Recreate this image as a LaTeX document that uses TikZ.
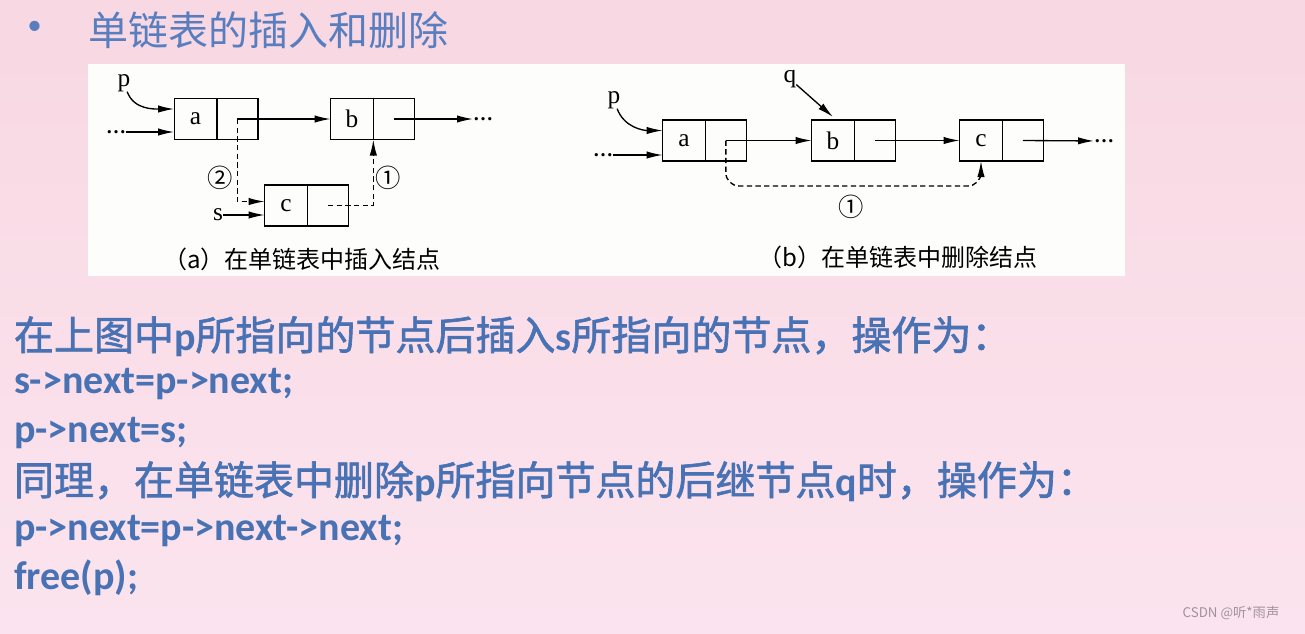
\documentclass[tikz,border=0pt]{standalone}
\usepackage{fontspec}
\setmainfont{Liberation Serif}
\newfontfamily\cjk{Noto Sans CJK SC}
\newfontfamily\cjkb[FakeBold=1.6]{Noto Sans CJK SC}
\newfontfamily\lat{Carlito}
\usetikzlibrary{arrows.meta,positioning,calc}
\definecolor{bodyblue}{RGB}{72,114,180}
\definecolor{titleblue}{RGB}{88,126,192}
\definecolor{bgtop}{RGB}{248,216,226}
\definecolor{bgbot}{RGB}{251,228,239}
\definecolor{panel}{RGB}{253,253,252}
\definecolor{markgray}{RGB}{160,146,154}
\newcommand{\lb}[1]{{\lat\bfseries #1}}

\begin{document}
\begin{tikzpicture}[x=0.75pt,y=-0.75pt,
  every node/.style={inner sep=0pt,outer sep=0pt},
  cell/.style={draw,line width=1pt,minimum width=32pt,minimum height=30.75pt,font=\fontsize{19}{19}\selectfont},
  ptrcell/.style={cell,minimum width=30.75pt},
  lbl/.style={font=\fontsize{19}{19}\selectfont},
  dots/.style={font=\bfseries\fontsize{15}{15}\selectfont},
  num/.style={font=\cjk\fontsize{19}{19}\selectfont},
  capt/.style={font=\cjk\fontsize{18}{18}\selectfont},
  body/.style={anchor=base west,text=bodyblue,font=\cjkb\fontsize{30}{30}\selectfont},
  arr/.style={-{Latex[length=12pt,width=5.5pt]},line width=1pt},
  darr/.style={arr,dash pattern=on 4pt off 2.5pt}
]
\useasboundingbox (0,0) rectangle (1305,633);
\shade[top color=bgtop,bottom color=bgbot] (0,0) rectangle (1305,633);
\fill[panel] (88,64) rectangle (1125,276);

% title
\node[text=titleblue,font=\fontsize{32}{32}\selectfont] (bul) at (35,31) {•};
\node[anchor=base west,text=titleblue,font=\cjk\fontsize{30}{30}\selectfont] (title) at (88,45) {单链表的插入和删除};

% (a) insertion
\node[cell] (a) at (195.5,119) {a};
\node[ptrcell,right=0pt of a] (ap) {};
\node[cell] (b) at (352,119) {b};
\node[ptrcell,right=0pt of b] (bp) {};
\node[cell] (c) at (286,205.5) {c};
\node[ptrcell,right=0pt of c] (cp) {};
\node[lbl] (pa) at (124,83) {p};
\node[dots] (da) at (116,132) {…};
\node[dots] (ea) at (483,119) {…};
\node[lbl] (sa) at (218,215) {s};
\draw[arr] (pa) to[out=-70,in=180] ($(a.west)+(0,-10)$);
\draw[arr] (da.east) -- (da.east -| a.west);
\draw[arr] (ap.center) -- (b);
\draw[arr] (bp.center) -- (ea);
\draw[arr] (sa.east) -- (sa.east -| c.west);
\draw[darr] (ap.center) |- ($(c.west)+(0,-4)$);
\draw[darr] (cp.center) -| (b.south east);
\node[num] (n2) at (220,178) {②};
\node[num] (n1) at (388,178) {①};
\node[capt] (capa) at (302,259) {（a）在单链表中插入结点};

% (b) deletion
\node[cell] (a2) at (684,140.5) {a};
\node[ptrcell,right=0pt of a2] (ap2) {};
\node[cell] (b2) at (833,140.5) {b};
\node[ptrcell,right=0pt of b2] (bp2) {};
\node[cell] (c2) at (981,140.5) {c};
\node[ptrcell,right=0pt of c2] (cp2) {};
\node[lbl] (pb) at (614,100) {p};
\node[lbl] (qb) at (790,79) {q};
\node[dots] (db) at (603,155) {…};
\node[dots] (eb) at (1104,141) {…};
\draw[arr] (pb) to[out=-70,in=180] ($(a2.west)+(0,-10)$);
\draw[arr] (db.east) -- (db.east -| a2.west);
\draw[arr] (qb) -- ($(b2.north)+(0,-3)$);
\draw[arr] (ap2.center) -- (b2);
\draw[arr] (bp2.center) -- (c2);
\draw[arr] (cp2.center) -- (eb);
\draw[darr,rounded corners=10pt] (ap2.center) |- ([yshift=-18.75pt]c2.south) -- (c2.south);
\node[num] (n1b) at (851,207) {①};
\node[capt] (capb) at (898,257) {（b）在单链表中删除结点};

% text below
\node[body] (l1) at (14,350) {在上图中\lb{p}所指向的节点后插入\lb{s}所指向的节点，操作为：};
\node[body] (l2) at (14,393) {\lb{s->next=p->next;}};
\node[body] (l3) at (14,442) {\lb{p->next=s;}};
\node[body] (l4) at (14,495) {同理，在单链表中删除\lb{p}所指向节点的后继节点\lb{q}时，操作为：};
\node[body] (l5) at (14,540) {\lb{p->next=p->next->next;}};
\node[body] (l6) at (14,589) {\lb{free(p);}};

\node[text=markgray,font=\cjk\fontsize{10}{10}\selectfont] (mark) at (1231,613) {CSDN @听*雨声};
\end{tikzpicture}
\end{document}
